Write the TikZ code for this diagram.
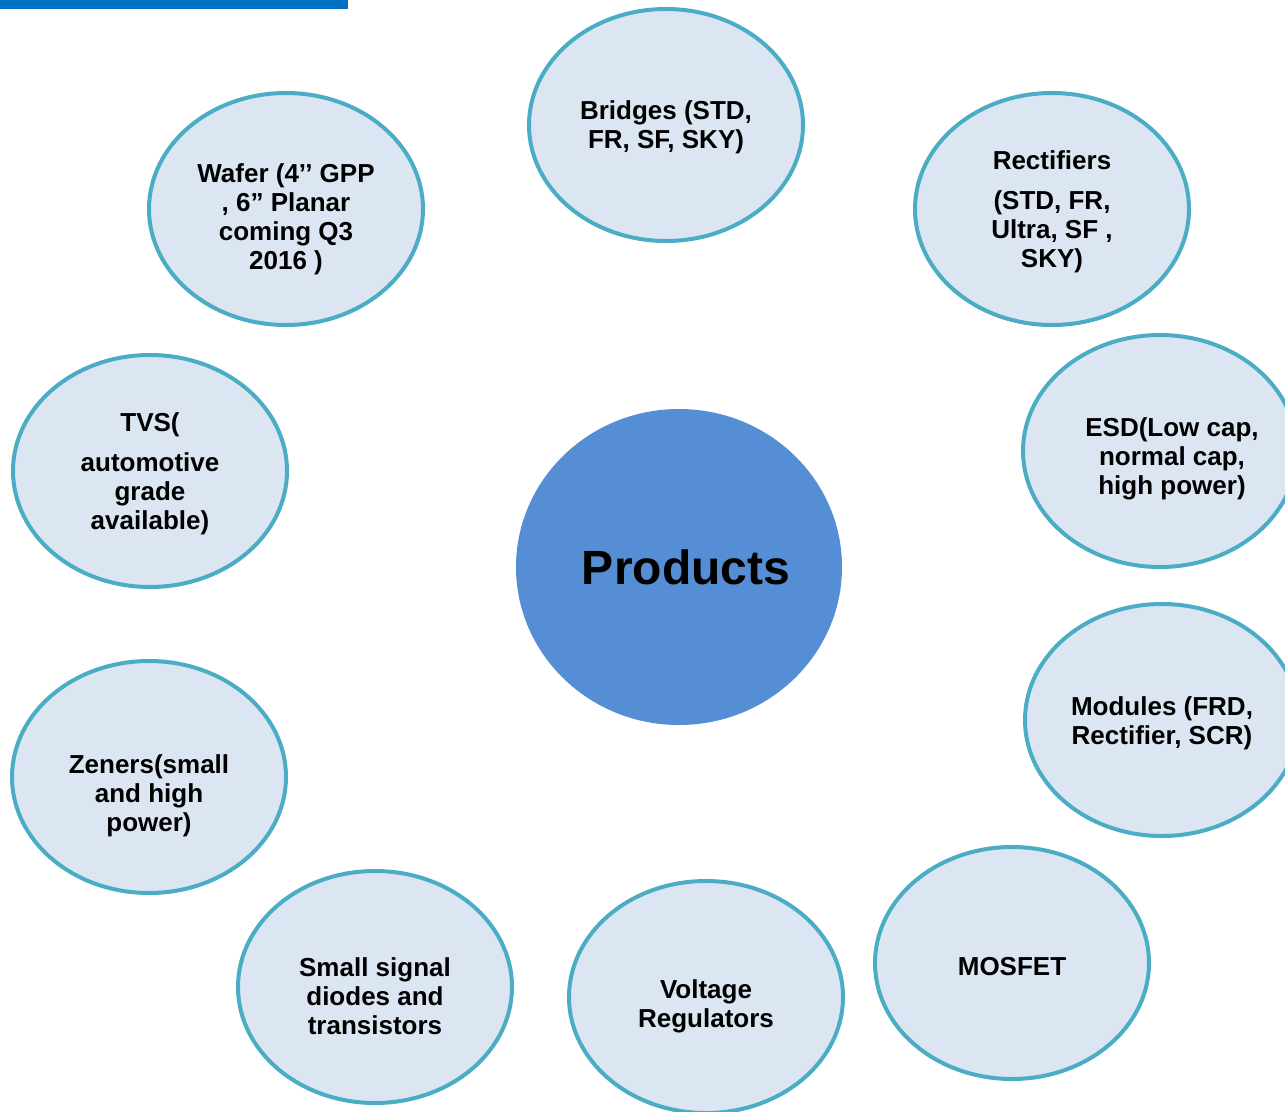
\documentclass[tikz,border=0pt]{standalone}
\usepackage{fontspec}
\setmainfont{Liberation Sans}
\usepackage{xcolor}
\usepackage{tikz}
\usetikzlibrary{shapes.geometric}
\definecolor{barblue}{HTML}{0070C0}
\definecolor{ringcyan}{HTML}{4BACC6}
\definecolor{ovalfill}{HTML}{DCE6F2}
\definecolor{hubblue}{HTML}{558ED5}
\tikzstyle{item} = [ellipse, minimum width=274pt, minimum height=232pt, inner sep=0pt, draw=ringcyan, line width=4pt, fill=ovalfill]
\tikzstyle{itemtext} = [inner sep=0pt, align=center, font=\bfseries\fontsize{26}{29}\selectfont]
\tikzstyle{hub} = [ellipse, minimum width=326pt, minimum height=316pt, inner sep=0pt, fill=hubblue]
\tikzstyle{hubtext} = [inner sep=0pt, font=\bfseries\fontsize{48}{52}\selectfont]

\begin{document}
\begin{tikzpicture}[x=1pt, y=-1pt]
    \useasboundingbox (0,0) rectangle (1285,1111);
    \clip (0,0) rectangle (1285,1111);
    \fill[barblue] (0,0) rectangle (348,9);

    % centre
    \node[hub] (products) at (679,567) {};
    \node[hubtext] (products-t) at ([xshift=7pt]products) {Products};

    % ring of product groups
    \node[item] (bridges) at (666,125) {};
    \node[itemtext] (bridges-t) at ([yshift=-2pt]bridges) {Bridges (STD,\\FR, SF, SKY)};
    \node[item] (rect) at (1052,209) {};
    \node[itemtext] (rect-t) at ([yshift=-3pt]rect) {Rectifiers\\[11pt](STD, FR,\\Ultra, SF ,\\SKY)};
    \node[item] (esd) at (1160,451) {};
    \node[itemtext] (esd-t) at ([xshift=12pt,yshift=-8pt]esd) {ESD(Low cap,\\normal cap,\\high power)};
    \node[item] (modules) at (1162,720) {};
    \node[itemtext] (modules-t) at ([yshift=-3pt]modules) {Modules (FRD,\\Rectifier, SCR)};
    \node[item] (mosfet) at (1012,963) {};
    \node[itemtext] (mosfet-t) at ([yshift=-4pt]mosfet) {MOSFET};
    \node[item] (vreg) at (706,997) {};
    \node[itemtext] (vreg-t) at ([yshift=-9pt]vreg) {Voltage\\Regulators};
    \node[item] (small) at (375,987) {};
    \node[itemtext] (small-t) at ([yshift=-9pt]small) {Small signal\\diodes and\\transistors};
    \node[item] (zener) at (149,777) {};
    \node[itemtext] (zener-t) at ([yshift=-19pt]zener) {Zeners(small\\and high\\power)};
    \node[item] (tvs) at (150,471) {};
    \node[itemtext] (tvs-t) at ([yshift=-3pt]tvs) {TVS(\\[11pt]automotive\\grade\\available)};
    \node[item] (wafer) at (286,209) {};
    \node[itemtext] (wafer-t) at ([yshift=-10pt]wafer) {Wafer (4’’ GPP\\, 6” Planar\\coming Q3\\2016 )};
\end{tikzpicture}
\end{document}
